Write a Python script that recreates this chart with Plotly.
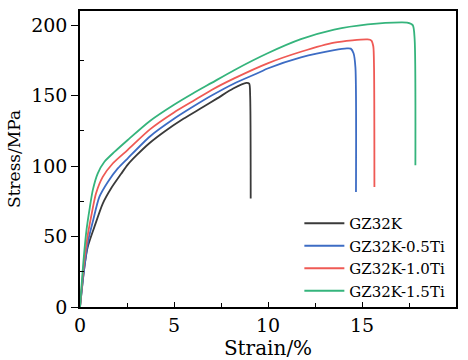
import plotly.graph_objects as go

names = ["GZ32K", "GZ32K-0.5Ti", "GZ32K-1.0Ti", "GZ32K-1.5Ti"]
colors = ["#3a3a3a", "#3d6cc4", "#ef5a55", "#35b47c"]

strain_k = [0, 0.2, 0.4, 0.77, 1.21, 1.65, 2.19, 2.54, 3.0, 3.72, 4.5, 5.5, 6.5, 7.3, 8.15, 8.85, 9.0, 9.05, 9.08]
stress_k = [0, 25, 42, 57, 73.4, 84.1, 94.5, 101, 107.5, 116.5, 124.5, 133.5, 141.5, 148, 155, 159, 158.5, 150, 77]

strain_05 = [0, 0.25, 0.45, 0.7, 1.03, 1.48, 2.01, 2.54, 3.72, 5, 6, 7, 8.2, 9.58, 9.98, 11.75, 13.52, 14.2, 14.4, 14.55, 14.65, 14.68]
stress_05 = [0, 30, 48, 61.6, 78.1, 88.7, 98.3, 105.5, 121, 133.5, 142, 150, 158.6, 166.7, 169.2, 177.1, 182.3, 183.5, 183.3, 180, 170, 81.6]

strain_10 = [0, 0.22, 0.4, 0.59, 0.85, 1.21, 1.74, 2.54, 3.72, 5, 6, 7, 8.2, 9.98, 11.75, 13.52, 15.3, 15.5, 15.6, 15.64, 15.66]
stress_10 = [0, 32, 50, 63.9, 80.5, 92.3, 101.8, 111.5, 126, 138, 146, 154, 162.2, 172.9, 181.1, 187.6, 189.8, 189, 185, 170, 85.2]

strain_15 = [0, 0.2, 0.35, 0.5, 0.68, 0.94, 1.3, 1.83, 2.54, 3.72, 5, 6, 7, 8.2, 9.98, 11.75, 13.52, 15.3, 17.1, 17.4, 17.7, 17.8, 17.84]
stress_15 = [0, 35, 55, 68.7, 82.9, 94.7, 103, 110, 118.5, 132, 143.5, 151.5, 159, 168, 180, 190, 196.8, 200.5, 202, 201.8, 200, 190, 100.6]

x_ticks = [0, 5, 10, 15, 20]
y_ticks = [0, 50, 100, 150, 200]

series = [(strain_k, stress_k), (strain_05, stress_05), (strain_10, stress_10), (strain_15, stress_15)]

fig = go.Figure()
for (xs, ys), nm, c in zip(series, names, colors):
    fig.add_trace(go.Scatter(x=xs, y=ys, mode="lines", name=nm,
                             line=dict(color=c, width=1.8, shape="spline", smoothing=0.7)))

font_family = "DejaVu Serif"
fig.update_layout(
    width=468, height=360,
    margin=dict(l=80, r=12, t=11, b=53),
    plot_bgcolor="white", paper_bgcolor="white",
    font=dict(family=font_family, color="black"),
    showlegend=True,
    legend=dict(x=0.985, xanchor="right", y=0.0, yanchor="bottom",
                bgcolor="rgba(0,0,0,0)", font=dict(size=15, family=font_family),
                itemwidth=40, tracegroupgap=0),
)
fig.update_xaxes(range=[0, 20], tickvals=x_ticks, ticks="inside", ticklen=5, tickwidth=1.2,
                 tickcolor="black", showline=True, linecolor="black", linewidth=1.5, mirror=True,
                 showgrid=False, zeroline=False, tickfont=dict(size=19, family=font_family),
                 automargin=False,
                 minor=dict(tickvals=[2.5, 7.5, 12.5, 17.5], ticks="inside", ticklen=4, tickcolor="black", showgrid=False),
                 title=dict(text="Strain/%", font=dict(size=20, family=font_family), standoff=0))
fig.update_yaxes(range=[0, 210], tickvals=y_ticks, ticks="outside", ticklen=7, tickwidth=1.2,
                 tickcolor="black", showline=True, linecolor="black", linewidth=1.5, mirror=True,
                 showgrid=False, zeroline=False, tickfont=dict(size=19, family=font_family),
                 automargin=False,
                 minor=dict(tickvals=[25, 75, 125, 175], ticks="inside", ticklen=4, tickcolor="black", showgrid=False),
                 title=dict(text="Stress/MPa", font=dict(size=17, family=font_family), standoff=6))

fig.write_html("out.html")
